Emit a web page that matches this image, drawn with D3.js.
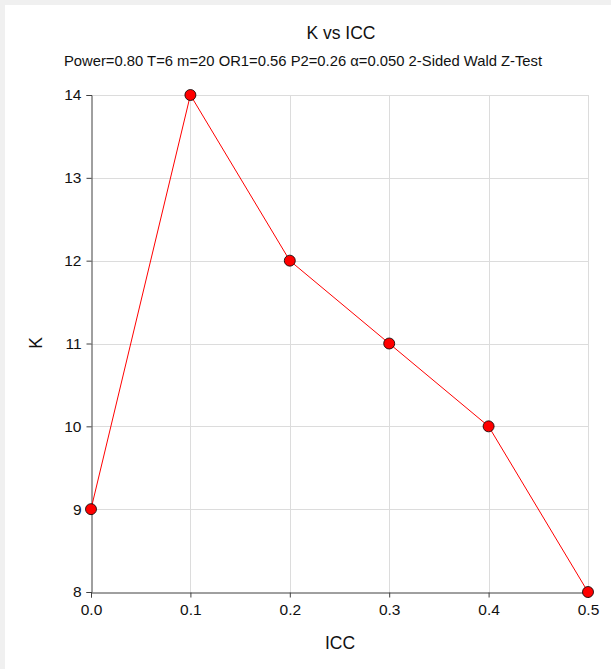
<!DOCTYPE html>
<html>
<head>
<meta charset="utf-8">
<script src="https://cdn.jsdelivr.net/npm/d3@7"></script>
<style>
  body { margin: 0; background: #f0f0f0; }
  svg { display: block; font-family: Arial, "Liberation Sans", sans-serif; }
</style>
</head>
<body>
<svg id="chart" width="611" height="669"></svg>
<script>
// 데이터
const icc = [0.0, 0.1, 0.2, 0.3, 0.4, 0.5];
const kValues = [9, 14, 12, 11, 10, 8];
const xTicks = [0.0, 0.1, 0.2, 0.3, 0.4, 0.5];
const yTicks = [8, 9, 10, 11, 12, 13, 14];
const title = "K vs ICC";
const subtitle = "Power=0.80 T=6 m=20 OR1=0.56 P2=0.26 \u03B1=0.050 2-Sided Wald Z-Test";

const svg = d3.select("#chart");

// 흰 배경 패널
svg.append("rect")
    .attr("x", 5).attr("y", 5)
    .attr("width", 606).attr("height", 664)
    .style("fill", "white");

const x = d3.scaleLinear().domain([0, 0.5]).range([91, 588]);
const y = d3.scaleLinear().domain([8, 14]).range([592, 95]);

// 그리드
const grid = svg.append("g");
grid.selectAll("line.gx")
    .data(xTicks.slice(1))
    .join("line")
    .attr("class", "gx")
    .attr("x1", d => Math.round(x(d)) + 0.5).attr("x2", d => Math.round(x(d)) + 0.5)
    .attr("y1", y(8)).attr("y2", y(14))
    .style("stroke", "#dcdcdc");
grid.selectAll("line.gy")
    .data(yTicks.slice(1))
    .join("line")
    .attr("class", "gy")
    .attr("x1", x(0)).attr("x2", x(0.5))
    .attr("y1", d => Math.round(y(d)) + 0.5).attr("y2", d => Math.round(y(d)) + 0.5)
    .style("stroke", "#dcdcdc");

// 축
const xAxis = svg.append("g")
    .attr("transform", `translate(0, ${Math.round(y(8)) + 0.5})`)
    .call(d3.axisBottom(x).tickValues(xTicks).tickFormat(d3.format(".1f")).tickSizeOuter(0).tickSize(5));
const yAxis = svg.append("g")
    .attr("transform", `translate(${Math.round(x(0)) + 0.5}, 0)`)
    .call(d3.axisLeft(y).tickValues(yTicks).tickFormat(d3.format("d")).tickSizeOuter(0).tickSize(5));

[xAxis, yAxis].forEach(a => {
    a.select(".domain").style("stroke", "#404040");
    a.selectAll(".tick line").style("stroke", "#404040");
    a.selectAll(".tick text")
        .style("font-family", "Arial, 'Liberation Sans', sans-serif")
        .style("font-size", "15.5px")
        .style("fill", "#111");
});
xAxis.selectAll(".tick text").attr("y", 11);
yAxis.selectAll(".tick text").attr("x", -10);

// 선 + 점
const line = d3.line().x((d, i) => x(icc[i])).y(d => y(d));
svg.append("path")
    .datum(kValues)
    .attr("d", line)
    .style("fill", "none")
    .style("stroke", "#ff0000")
    .style("stroke-width", 1);
svg.selectAll("circle.pt")
    .data(kValues)
    .join("circle")
    .attr("class", "pt")
    .attr("cx", (d, i) => x(icc[i]))
    .attr("cy", d => y(d))
    .attr("r", 5.5)
    .style("fill", "#ff0000")
    .style("stroke", "#000")
    .style("stroke-width", 0.8);

// 제목
svg.append("text")
    .attr("x", 341).attr("y", 39)
    .attr("text-anchor", "middle")
    .style("font-size", "17.5px")
    .style("fill", "#111")
    .text(title);
svg.append("text")
    .attr("x", 303).attr("y", 66)
    .attr("text-anchor", "middle")
    .style("font-size", "14.8px")
    .style("fill", "#111")
    .text(subtitle);

// 축 제목
svg.append("text")
    .attr("x", 340).attr("y", 649)
    .attr("text-anchor", "middle")
    .style("font-size", "17.5px")
    .style("fill", "#111")
    .text("ICC");
svg.append("text")
    .attr("transform", "translate(42, 343) rotate(-90)")
    .attr("text-anchor", "middle")
    .style("font-size", "17.5px")
    .style("fill", "#111")
    .text("K");
</script>
</body>
</html>
